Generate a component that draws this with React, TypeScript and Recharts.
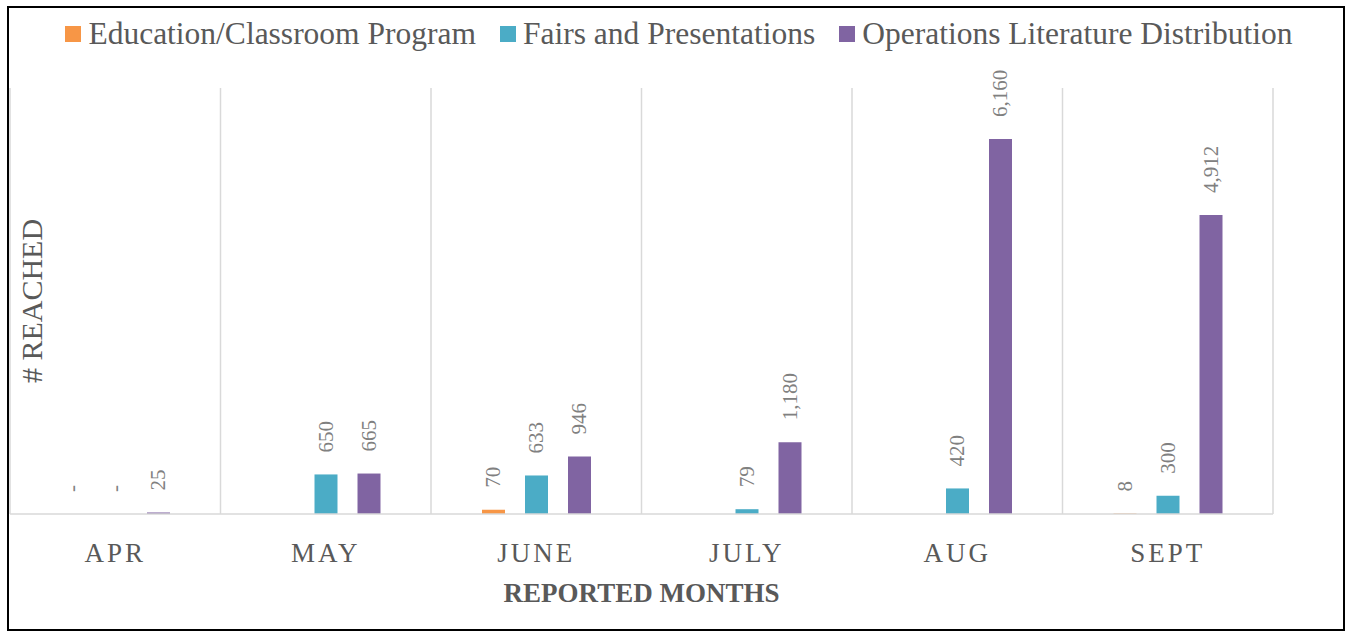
import React from 'react';
import { BarChart, Bar, XAxis, YAxis, CartesianGrid, LabelList, Label } from 'recharts';

const MONTHS = ['APR', 'MAY', 'JUNE', 'JULY', 'AUG', 'SEPT'];
const EDUCATION = [0, null, 70, null, null, 8];
const FAIRS = [0, 650, 633, 79, 420, 300];
const OPERATIONS = [25, 665, 946, 1180, 6160, 4912];
const Y_MAX = 7000;

const SERIES = [
  { key: 'education', name: 'Education/Classroom Program', color: '#F79646' },
  { key: 'fairs', name: 'Fairs and Presentations', color: '#4BACC6' },
  { key: 'operations', name: 'Operations Literature Distribution', color: '#8064A2' },
];

const FONT = '"Liberation Serif", "Times New Roman", serif';
const TEXT_DARK = '#595959';
const GRID = '#d9d9d9';

const data = MONTHS.map((month, i) => ({
  month,
  education: EDUCATION[i],
  fairs: FAIRS[i],
  operations: OPERATIONS[i],
}));

// rotated value label sitting above each bar, "-" for zero like Excel
const renderValueLabel = (props: any) => {
  const { x, y, width, value } = props;
  if (value === null || value === undefined) return null;
  const cx = x + width / 2;
  const ay = y - 22;
  const text = Number(value) === 0 ? '-' : Number(value).toLocaleString('en-US');
  return (
    <text
      x={cx}
      y={ay}
      transform={`rotate(-90, ${cx}, ${ay})`}
      textAnchor="start"
      dominantBaseline="central"
      fontFamily={FONT}
      fontSize={21}
      fill="#808080"
    >
      {text}
    </text>
  );
};

const renderMonthTick = (props: any) => {
  const { x, y, payload } = props;
  return (
    <text
      x={x}
      y={y + 48}
      textAnchor="middle"
      fontFamily={FONT}
      fontSize={27}
      letterSpacing={3}
      fill={TEXT_DARK}
    >
      {payload.value}
    </text>
  );
};

const App: React.FC = () => {
  return (
    <div style={{ position: 'absolute', left: 0, top: 0, width: 1346, height: 631, background: '#fff' }}>
      {/* outer frame */}
      <div
        style={{
          position: 'absolute',
          left: 7,
          top: 6,
          width: 1338,
          height: 625,
          border: '2px solid #000',
          boxSizing: 'border-box',
        }}
      />

      {/* legend */}
      <div
        style={{
          position: 'absolute',
          left: 0,
          top: 15,
          width: 1358,
          height: 38,
          display: 'flex',
          justifyContent: 'center',
          alignItems: 'center',
          fontFamily: FONT,
          fontSize: 31.5,
          color: TEXT_DARK,
          whiteSpace: 'nowrap',
        }}
      >
        {SERIES.map((s, i) => (
          <div key={s.key} style={{ display: 'flex', alignItems: 'center', marginLeft: i === 0 ? 0 : 24 }}>
            <span style={{ display: 'inline-block', width: 16, height: 16, background: s.color, marginRight: 7 }} />
            <span style={{ lineHeight: 1 }}>{s.name}</span>
          </div>
        ))}
      </div>

      <div style={{ position: 'absolute', left: 0, top: 0 }}>
        <BarChart
          width={1346}
          height={631}
          data={data}
          margin={{ top: 88, right: 73, bottom: 17, left: 10 }}
          barSize={23}
          barGap={20}
        >
          <CartesianGrid
            horizontal={false}
            stroke={GRID}
            strokeWidth={1.5}
            verticalCoordinatesGenerator={({ offset }: any) =>
              MONTHS.map((_, i) => offset.left + (i * offset.width) / MONTHS.length).concat(offset.left + offset.width)
            }
          />
          <XAxis
            dataKey="month"
            height={100}
            tickLine={false}
            tickSize={0}
            tickMargin={0}
            axisLine={{ stroke: GRID, strokeWidth: 1.5 }}
            tick={renderMonthTick}
            interval={0}
          >
            <Label
              content={({ viewBox }: any) => (
                <text
                  x={viewBox.x + viewBox.width / 2}
                  y={viewBox.y + 88}
                  textAnchor="middle"
                  fontFamily={FONT}
                  fontSize={27}
                  fontWeight="bold"
                  fill={TEXT_DARK}
                >
                  REPORTED MONTHS
                </text>
              )}
            />
          </XAxis>
          <YAxis hide domain={[0, Y_MAX]} />
          {SERIES.map((s) => (
            <Bar
              key={s.key}
              dataKey={s.key}
              name={s.name}
              fill={s.color}
              minPointSize={0.01}
              isAnimationActive={false}
            >
              <LabelList dataKey={s.key} content={renderValueLabel} />
            </Bar>
          ))}
        </BarChart>
      </div>

      {/* y axis title, drawn over the plot like the original */}
      <div
        style={{
          position: 'absolute',
          left: 32,
          top: 301,
          transform: 'translate(-50%, -50%) rotate(-90deg)',
          fontFamily: FONT,
          fontSize: 30,
          lineHeight: 1,
          color: TEXT_DARK,
          whiteSpace: 'nowrap',
        }}
      >
        # REACHED
      </div>
    </div>
  );
};

export default App;
